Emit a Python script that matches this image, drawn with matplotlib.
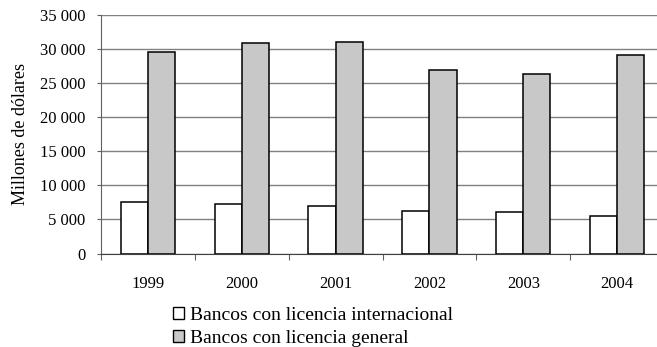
import matplotlib
matplotlib.use("Agg")
import matplotlib.pyplot as plt
import numpy as np
from matplotlib.patches import Patch
from matplotlib.ticker import FuncFormatter

years = ["1999", "2000", "2001", "2002", "2003", "2004"]
internacional = [7500, 7200, 7000, 6300, 6100, 5500]
general = [29500, 30900, 31000, 26900, 26300, 29100]
series_names = ["Bancos con licencia internacional", "Bancos con licencia general"]
y_ticks = [0, 5000, 10000, 15000, 20000, 25000, 30000, 35000]

plt.rcParams["font.family"] = ["Liberation Serif", "DejaVu Serif"]
plt.rcParams["font.size"] = 12

W, H = 657, 347
fig = plt.figure(figsize=(W / 100, H / 100), dpi=100)
left, right, top, bottom = 101, 664, 15, 253.5
ax = fig.add_axes([left / W, 1 - bottom / H, (right - left) / W, (bottom - top) / H])

x = np.arange(len(years))
bw = 0.29
ax.bar(x - bw / 2, internacional, bw, color="white", edgecolor="black", linewidth=1.1, zorder=3)
ax.bar(x + bw / 2, general, bw, color="#c8c8c8", edgecolor="black", linewidth=1.1, zorder=3)

ax.set_xlim(-0.5, len(years) - 0.5)
ax.set_ylim(0, 35000)
ax.set_yticks(y_ticks)
ax.yaxis.set_major_formatter(FuncFormatter(lambda v, p: f"{int(v):,}".replace(",", " ")))
ax.yaxis.grid(True, color="#808080", linewidth=1.0, zorder=0)
ax.set_axisbelow(True)

# category boundaries carry the tick marks, year labels sit at the centres
ax.set_xticks(np.arange(len(years) + 1) - 0.5)
ax.set_xticklabels([])
ax.set_xticks(x, minor=True)
ax.set_xticklabels(years, minor=True)
ax.tick_params(axis="x", which="major", direction="out", length=4, color="#606060")
ax.tick_params(axis="x", which="minor", length=0, pad=16.5)
ax.tick_params(axis="y", direction="out", length=3, color="#606060", pad=8)

for side in ("top", "right"):
    ax.spines[side].set_visible(False)
ax.spines["left"].set_color("#606060")
ax.spines["bottom"].set_color("#404040")

ax.set_ylabel("Millones de dólares", fontsize=13, labelpad=8)

handles = [Patch(facecolor="white", edgecolor="black", linewidth=1.0),
           Patch(facecolor="#c8c8c8", edgecolor="black", linewidth=1.0)]
fig.legend(handles, series_names, loc="upper left", bbox_to_anchor=(173 / W, 1 - 307 / H),
           frameon=False, fontsize=14, handlelength=0.57, handleheight=0.57,
           handletextpad=0.28, labelspacing=0.32, borderpad=0, borderaxespad=0)

fig.savefig("out.png", dpi=100, facecolor="white")
